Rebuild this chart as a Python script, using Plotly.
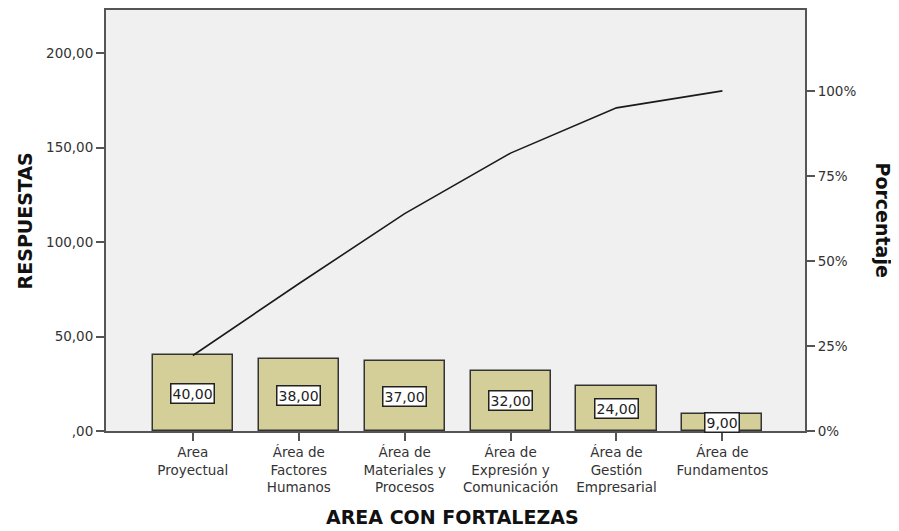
import plotly.graph_objects as go

categories = ["Area<br>Proyectual", "Área de<br>Factores<br>Humanos", "Área de<br>Materiales y<br>Procesos",
              "Área de<br>Expresión y<br>Comunicación", "Área de<br>Gestión<br>Empresarial", "Área de<br>Fundamentos"]
responses = [40, 38, 37, 32, 24, 9]
cumulative_pct = [22.2, 43.3, 63.9, 81.7, 95.0, 100.0]
bar_labels = ["40,00", "38,00", "37,00", "32,00", "24,00", "9,00"]
left_tickvals = [0, 50, 100, 150, 200]
left_ticktext = [",00", "50,00", "100,00", "150,00", "200,00"]
right_tickvals = [0, 25, 50, 75, 100]
right_ticktext = ["0%", "25%", "50%", "75%", "100%"]

font = "DejaVu Sans, Arial, sans-serif"
axis_col = "#555555"
tick_font = dict(family=font, size=13.5, color="#333333")
title_font = dict(family=font, size=19, color="#111111")

fig = go.Figure()
fig.add_trace(go.Bar(x=categories, y=responses, width=0.756,
                     marker=dict(color="#D4CF98", line=dict(color="#333333", width=1.5)),
                     showlegend=False, hoverinfo="skip"))
fig.add_trace(go.Scatter(x=categories, y=cumulative_pct, yaxis="y2", mode="lines",
                         line=dict(color="#1a1a1a", width=1.6), showlegend=False))

for c, v, t in zip(categories, responses, bar_labels):
    fig.add_annotation(x=c, y=v / 2, text=t, showarrow=False, xref="x", yref="y",
                       bgcolor="white", bordercolor="#222222", borderwidth=1.5, borderpad=1,
                       font=dict(family=font, size=14, color="#222222"))

ymax = 222.8
# page body has an 8px default margin, so the figure is shrunk by 8px and margins shifted
fig.update_layout(
    width=891, height=523,
    margin=dict(l=98, r=94, t=2, b=100, autoexpand=False),
    paper_bgcolor="white", plot_bgcolor="#F0F0F0",
    font=dict(family=font, size=13.5, color="#333333"),
    bargap=0,
    xaxis=dict(range=[-0.82, 5.78], showline=True, linecolor=axis_col, linewidth=2, mirror=True,
               ticks="outside", ticklen=8, tickcolor=axis_col, tickwidth=2, showgrid=False,
               automargin=False, tickfont=tick_font),
    yaxis=dict(range=[0, ymax], tickvals=left_tickvals, ticktext=left_ticktext, showline=True,
               linecolor=axis_col, linewidth=2, ticks="outside", ticklen=8, tickcolor=axis_col,
               tickwidth=2, showgrid=False, zeroline=False, automargin=False, tickfont=tick_font),
    yaxis2=dict(range=[0, ymax / 180 * 100], tickvals=right_tickvals, ticktext=right_ticktext,
                overlaying="y", side="right", showline=True, linecolor=axis_col, linewidth=2,
                ticks="outside", ticklen=8, tickcolor=axis_col, tickwidth=2, showgrid=False,
                zeroline=False, automargin=False, tickfont=tick_font),
)

fig.add_annotation(text="<b>RESPUESTAS</b>", xref="paper", yref="paper", x=-0.116, y=0.50,
                   xanchor="center", yanchor="middle",
                   textangle=-90, showarrow=False, font=title_font)
fig.add_annotation(text="<b>Porcentaje</b>", xref="paper", yref="paper", x=1.113, y=0.50,
                   xanchor="center", yanchor="middle",
                   textangle=90, showarrow=False, font=title_font)
fig.add_annotation(text="<b>AREA CON FORTALEZAS</b>", xref="paper", yref="paper", x=0.495, y=-0.204,
                   xanchor="center", yanchor="middle",
                   showarrow=False, font=title_font)

fig.write_html("out.html")
